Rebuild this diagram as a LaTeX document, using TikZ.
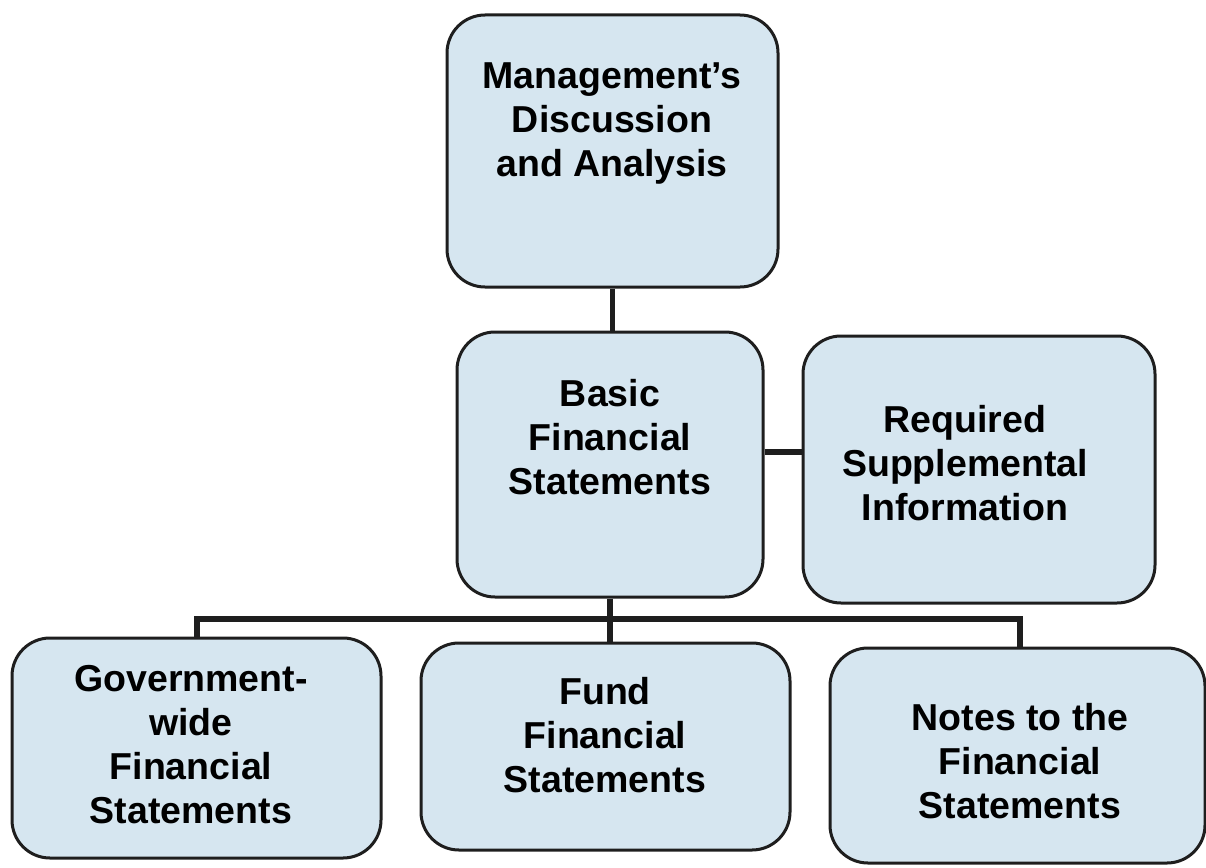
\documentclass[tikz,border=0pt]{standalone}
\usepackage{fontspec}
\setmainfont{Liberation Sans}
\definecolor{boxfill}{RGB}{214,230,240}
\definecolor{ink}{RGB}{30,30,30}
\begin{document}
\begin{tikzpicture}[x=1pt,y=-1pt,
  box/.style={draw=ink, line width=3pt, fill=boxfill, rounded corners=38pt, inner sep=0pt},
  txt/.style={font=\fontsize{37.5}{44}\selectfont\bfseries, align=center, text=black, inner sep=0pt},
  link/.style={draw=ink, line width=5.5pt, line join=miter}]
\useasboundingbox (0,0) rectangle (1206,867);
% boxes
\node[box, minimum width=331pt, minimum height=272pt] (mgmt)  at (612.5,151) {};
\node[box, minimum width=306pt, minimum height=265pt] (basic) at (610,464.5) {};
\node[box, minimum width=352pt, minimum height=267pt] (rsi)   at (979,469.5) {};
\node[box, minimum width=369pt, minimum height=220pt] (gov)   at (196.5,748) {};
\node[box, minimum width=369pt, minimum height=207pt] (fund)  at (605.5,746.5) {};
\node[box, minimum width=375pt, minimum height=215pt] (notes) at (1017.5,755.5) {};
% connectors
\coordinate (rj) at (785,452);
\coordinate (busL) at (197,619);
\coordinate (busR) at (1020,619);
\draw[link] (mgmt.south) -- (mgmt.south |- basic.north);
\draw[link] (basic.east |- rj) -- (rsi.west |- rj);
\draw[link] (basic.south) -- (basic.south |- fund.north);
\draw[link] (gov.north -| busL) -- (busL) -- (busR) -- (notes.north -| busR);
% texts
\node[txt] (mgmtT)  at (612,123) {Management’s\\Discussion\\and Analysis};
\node[txt] (basicT) at (610,437) {Basic\\Financial\\Statements};
\node[txt] (rsiT)   at (965,463) {Required\\Supplemental\\Information};
\node[txt] (govT)   at (191,745) {Government-\\wide\\Financial\\Statements};
\node[txt] (fundT)  at (605,735) {Fund\\Financial\\Statements};
\node[txt] (notesT) at (1020,761) {Notes to the\\Financial\\Statements};
\end{tikzpicture}
\end{document}
